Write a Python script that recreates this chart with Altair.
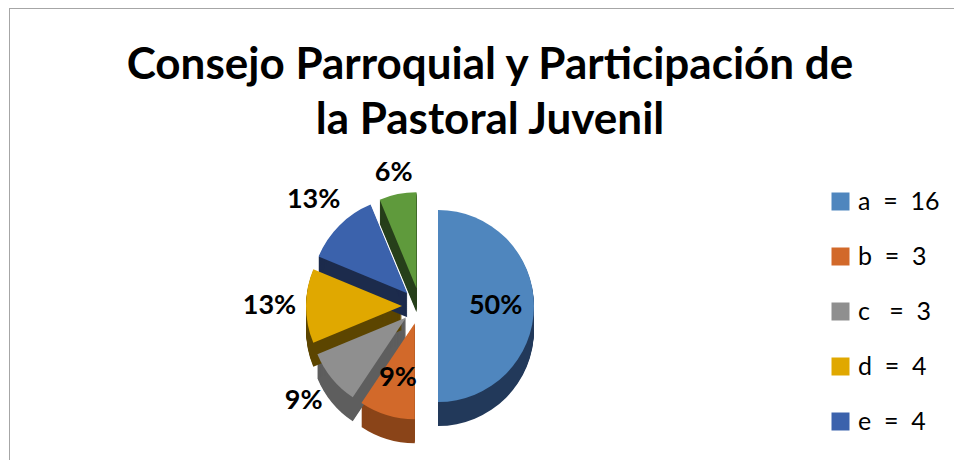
import altair as alt
import pandas as pd

# ---- data ----
categories = ["a", "b", "c", "d", "e", "f"]
counts = [16, 3, 3, 4, 4, 2]
legend_labels = ["a  =  16", "b  =  3", "c   =  3", "d  =  4", "e  =  4", "f  =  2"]
legend_shown = 5
title_lines = ["Consejo Parroquial y Participación de", "la Pastoral Juvenil"]

# ---- styles ----
top_colors = ["#4F86BE", "#D2692A", "#8F8F8F", "#E0A800", "#3B62AC", "#5F9A3C"]
side_colors = ["#22395A", "#8A4418", "#5E5E5E", "#5C4500", "#1C2B4C", "#263F1A"]
FONT = "Lato"
W, H = 946, 452
CX, CY = 412, 298   # pie centre (px)
R = 96              # pie radius (px)
EXPLODE = 18        # explosion distance (px)
DEPTH = 24          # pseudo-3D thickness (px)

NB = "\u00a0"
labels = [s.replace(" ", NB) for s in legend_labels]

df = pd.DataFrame({
    "cat": categories,
    "count": counts,
    "label": labels,
    "order": list(range(len(categories))),
})

base = (
    alt.Chart(df)
    .transform_joinaggregate(total="sum(count)")
    .transform_window(cum="sum(count)", sort=[alt.SortField("order")], frame=[None, 0])
    .transform_calculate(t0="2*PI*(datum.cum - datum.count)/datum.total")
    .transform_calculate(t1="2*PI*datum.cum/datum.total")
    .transform_calculate(mid="(datum.t0 + datum.t1)/2")
    .transform_calculate(cx=f"{CX} + {EXPLODE}*sin(datum.mid)")
    .transform_calculate(cy=f"{CY} - {EXPLODE}*cos(datum.mid)")
)

theta_enc = dict(
    theta=alt.Theta("t0:Q", scale=None, stack=None),
    theta2="t1:Q",
)

side = (
    base.transform_calculate(steps=f"sequence(1, {DEPTH + 1}, 1)")
    .transform_flatten(["steps"])
    .transform_calculate(sy="datum.cy + datum.steps")
    .mark_arc(radius=R, strokeWidth=0)
    .encode(
        x=alt.X("cx:Q", scale=None, axis=None),
        y=alt.Y("sy:Q", scale=None, axis=None),
        color=alt.Color("label:N", scale=alt.Scale(domain=labels, range=side_colors), legend=None),
        **theta_enc,
    )
)

top = base.mark_arc(radius=R, strokeWidth=0).encode(
    x=alt.X("cx:Q", scale=None, axis=None),
    y=alt.Y("cy:Q", scale=None, axis=None),
    color=alt.Color(
        "label:N",
        scale=alt.Scale(domain=labels, range=top_colors),
        legend=alt.Legend(
            values=labels[:legend_shown],
            title=None,
            orient="none",
            legendX=820,
            legendY=181,
            padding=0,
            symbolType="square",
            symbolSize=324,
            symbolStrokeWidth=0,
            labelFont=FONT,
            labelFontSize=25,
            labelColor="black",
            labelOffset=5,
            labelLimit=300,
            rowPadding=29,
        ),
    ),
    **theta_enc,
)

text = (
    base.transform_calculate(
        lr=(
            f"indexof(['a','b'], datum.cat) >= 0 ? {0.6 * R} : "
            f"(datum.cat == 'f' ? {1.22 * R} : {1.38 * R})"
        )
    )
    .transform_calculate(lx="datum.cx + datum.lr*sin(datum.mid)")
    .transform_calculate(ly="datum.cy - datum.lr*cos(datum.mid)")
    .transform_calculate(pct="round(100*datum.count/datum.total) + '%'")
    .mark_text(font=FONT, fontSize=27, fontWeight="bold", color="black")
    .encode(
        x=alt.X("lx:Q", scale=None, axis=None),
        y=alt.Y("ly:Q", scale=None, axis=None),
        text="pct:N",
    )
)

title = (
    alt.Chart(pd.DataFrame({"k": [0]}))
    .mark_text(
        text=title_lines,
        font=FONT,
        fontSize=44,
        fontWeight="bold",
        lineHeight=55,
        align="center",
        baseline="alphabetic",
        color="black",
    )
    .encode(x=alt.value(482), y=alt.value(71))
)

frame_top = alt.Chart(pd.DataFrame({"k": [0]})).mark_rule(color="#A6A6A6", strokeWidth=1).encode(
    x=alt.value(1), x2=alt.value(W), y=alt.value(0.5)
)
frame_left = alt.Chart(pd.DataFrame({"k": [0]})).mark_rule(color="#A6A6A6", strokeWidth=1).encode(
    x=alt.value(1.5), y=alt.value(0), y2=alt.value(H)
)

chart = (
    alt.layer(frame_top, frame_left, side, top, text, title)
    .resolve_scale(color="independent")
    .properties(width=W, height=H, padding=0, autosize="none", background="white")
    .configure_view(stroke=None)
)

chart.save("out.html", embed_options={"renderer": "svg", "actions": False})
